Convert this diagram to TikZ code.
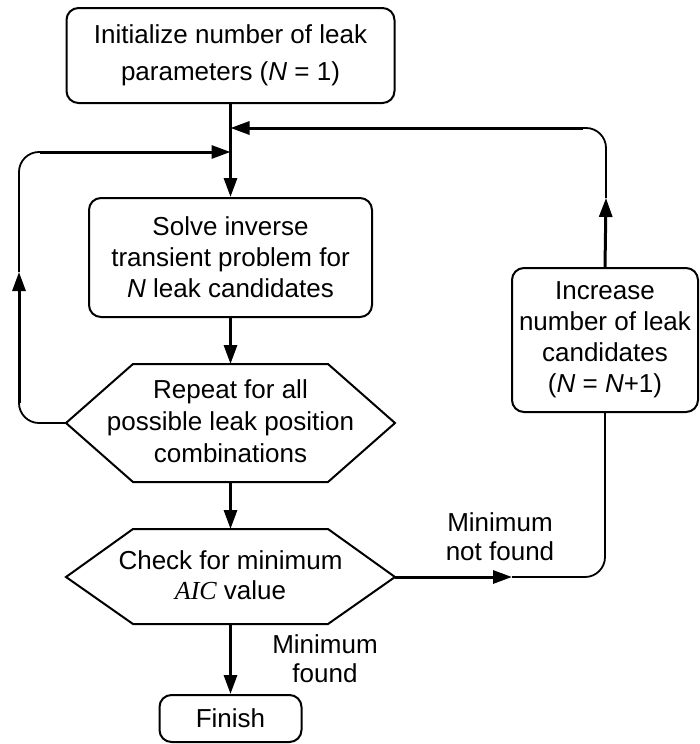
\documentclass[tikz,border=0pt]{standalone}
\usepackage{fontspec}
\setmainfont{Liberation Sans}
\newfontfamily\tms{Liberation Serif}
\usetikzlibrary{arrows.meta}
\begin{document}
\begin{tikzpicture}[x=1pt,y=-1pt,
  txt/.style={align=center,font=\fontsize{26}{31}\selectfont,inner sep=0pt},
  rbox/.style={draw,line width=2pt,rounded corners=12pt,txt},
  hexline/.style={draw,line width=2pt,line join=miter},
  thickarrow/.style={line width=3pt,-{Triangle[length=19pt,width=13pt]}},
  thinline/.style={line width=1.8pt,rounded corners=20pt},
  lbl/.style={align=center,font=\fontsize{26}{29}\selectfont,inner sep=0pt}]
\useasboundingbox (0,0) rectangle (699,744);

% boxes
\node[rbox,minimum width=328pt,minimum height=95pt,font=\fontsize{26}{37}\selectfont] (top) at (230.5,55.5)
  {Initialize number of leak\\parameters (\textit{N} = 1)};
\node[rbox,minimum width=283pt,minimum height=119pt] (solve) at (230.5,257.5)
  {Solve inverse\\transient problem for\\\textit{N} leak candidates};
\node[rbox,minimum width=186pt,minimum height=144pt] (inc) at (605,340)
  {Increase\\number of leak\\candidates\\(\textit{N} = \textit{N}+1)};
\node[rbox,minimum width=142pt,minimum height=47pt] (fin) at (230.5,718.5) {Finish};

% hexagon 1
\coordinate (h1w) at (66,423);
\coordinate (h1e) at (395,423);
\coordinate (h1n) at (230.5,364);
\coordinate (h1s) at (230.5,482);
\draw[hexline] (h1w) -- (133,364) -- (328,364) -- (h1e) -- (328,482) -- (133,482) -- cycle;
\node[txt,font=\fontsize{26}{32}\selectfont] (rep) at (230.5,421)
  {Repeat for all\\possible leak position\\combinations};

% hexagon 2
\coordinate (h2w) at (66,577);
\coordinate (h2e) at (395,577);
\coordinate (h2n) at (230.5,529);
\coordinate (h2s) at (230.5,624);
\draw[hexline] (h2w) -- (133,529) -- (328,529) -- (h2e) -- (328,624) -- (133,624) -- cycle;
\node[txt,font=\fontsize{26}{30}\selectfont] (chk) at (230.5,575)
  {Check for minimum\\{\tms\itshape AIC} value};

% main line
\coordinate (m1) at (230.5,128);
\coordinate (m2) at (230.5,152);
\draw[thickarrow] (top.south) -- (solve.north);
\draw[thickarrow] (solve.south) -- (h1n);
\draw[thickarrow] (h1s) -- (h2n);
\draw[thickarrow] (h2s) -- (fin.north);

% left loop
\coordinate (b1) at (19,403);
\coordinate (a3) at (19,272);
\coordinate (b2) at (40,152);
\draw[thinline] (h1w) -| (b1);
\draw[thickarrow] (b1) -- (a3);
\draw[thinline] (a3) |- (b2);
\draw[thickarrow] (b2) -- (m2);

% right loop
\coordinate (a1) at (512,577);
\coordinate (a2) at (606,198);
\coordinate (c1) at (583,128);
\draw[thickarrow] (h2e) -- (a1);
\draw[thinline] (a1) -| (inc.south);
\draw[thickarrow] (inc.north) -- (a2);
\draw[thinline] (a2) |- (c1);
\draw[thickarrow] (c1) -- (m1);

% labels
\node[lbl] (nf) at (500,537) {Minimum\\not found};
\node[lbl] (fd) at (325,659) {Minimum\\found};
\end{tikzpicture}
\end{document}
